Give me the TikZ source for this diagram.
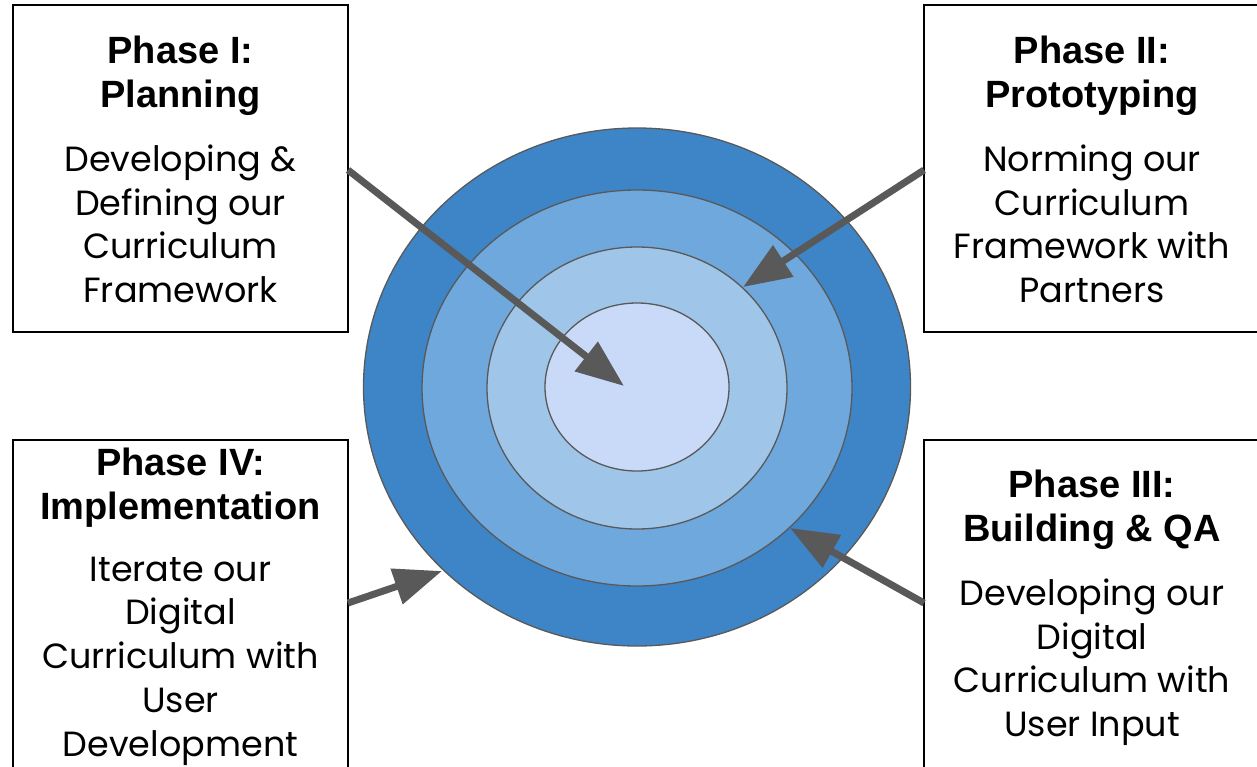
\documentclass[tikz,border=0pt]{standalone}
\usepackage{fontspec}
\setmainfont{Poppins}
\newfontfamily\titlefont{Liberation Sans}
\usetikzlibrary{arrows.meta,shapes.geometric,calc}
\definecolor{ringA}{RGB}{61,133,198}
\definecolor{ringB}{RGB}{111,168,220}
\definecolor{ringC}{RGB}{159,197,232}
\definecolor{ringD}{RGB}{201,218,248}
\definecolor{edgegray}{RGB}{89,89,89}
\definecolor{arrowgray}{RGB}{89,89,89}
\begin{document}
\begin{tikzpicture}[x=1pt,y=-1pt,
  ring/.style={ellipse, draw=edgegray, line width=1.3pt, inner sep=0pt, outer sep=0pt},
  phasebox/.style={draw=black, line width=2pt, fill=white, inner sep=0pt, outer sep=0pt},
  titletext/.style={font={\titlefont\bfseries\fontsize{38}{44}\selectfont}, align=center, inner sep=0pt},
  bodytext/.style={font={\fontsize{35}{43.8}\selectfont}, align=center, inner sep=0pt},
  arr/.style={draw=arrowgray, line width=7pt, -{Triangle[length=48pt,width=36pt]}}]
\useasboundingbox (0,0) rectangle (1257,766);
\clip (0,0) rectangle (1257,766);
% rings
\node[ring, fill=ringA, minimum width=547pt, minimum height=518pt] (r1) at (637,387) {};
\node[ring, fill=ringB, minimum width=430pt, minimum height=396pt] (r2) at (637,388) {};
\node[ring, fill=ringC, minimum width=300pt, minimum height=282pt] (r3) at (637,388) {};
\node[ring, fill=ringD, minimum width=184pt, minimum height=168pt] (r4) at (637,387) {};
% boxes
\node[phasebox, minimum width=335pt, minimum height=327pt] (b1) at (180.5,168.5) {};
\node[phasebox, minimum width=336pt, minimum height=327pt] (b2) at (1092,168.5) {};
\node[phasebox, minimum width=335pt, minimum height=360pt] (b4) at (180.5,620) {};
\node[phasebox, minimum width=336pt, minimum height=360pt] (b3) at (1092,620) {};
% texts
\node[titletext, anchor=north] (t1) at (180.5,35.6) {Phase I:\\Planning};
\node[bodytext, anchor=north] (d1) at (180.5,144.4) {Developing \&\\Defining our\\Curriculum\\Framework};
\node[titletext, anchor=north] (t2) at (1092,35.6) {Phase II:\\Prototyping};
\node[bodytext, anchor=north] (d2) at (1092,144.4) {Norming our\\Curriculum\\Framework with\\Partners};
\node[titletext, anchor=north] (t3) at (1092,469.6) {Phase III:\\Building \& QA};
\node[bodytext, anchor=north] (d3) at (1092,578.4) {Developing our\\Digital\\Curriculum with\\User Input};
\node[titletext, anchor=north] (t4) at (180.5,447.6) {Phase IV:\\Implementation};
\node[bodytext, anchor=north] (d4) at (180.5,556.4) {Iterate our\\Digital\\Curriculum with\\User\\Development};
% arrow end points
\coordinate (s1) at ($(b1.north east)+(0,165)$);
\coordinate (s2) at ($(b2.north west)+(0,165)$);
\coordinate (s3) at ($(b3.north west)+(0,163)$);
\coordinate (s4) at ($(b4.north east)+(0,163)$);
\coordinate (p1) at (624,386);
\coordinate (p2) at (743,287);
\coordinate (p3) at (790,528);
\coordinate (p4) at (442,571);
\draw[arr] (s1) -- (p1);
\draw[arr] (s2) -- (p2);
\draw[arr] (s3) -- (p3);
\draw[arr] (s4) -- (p4);
\end{tikzpicture}
\end{document}
